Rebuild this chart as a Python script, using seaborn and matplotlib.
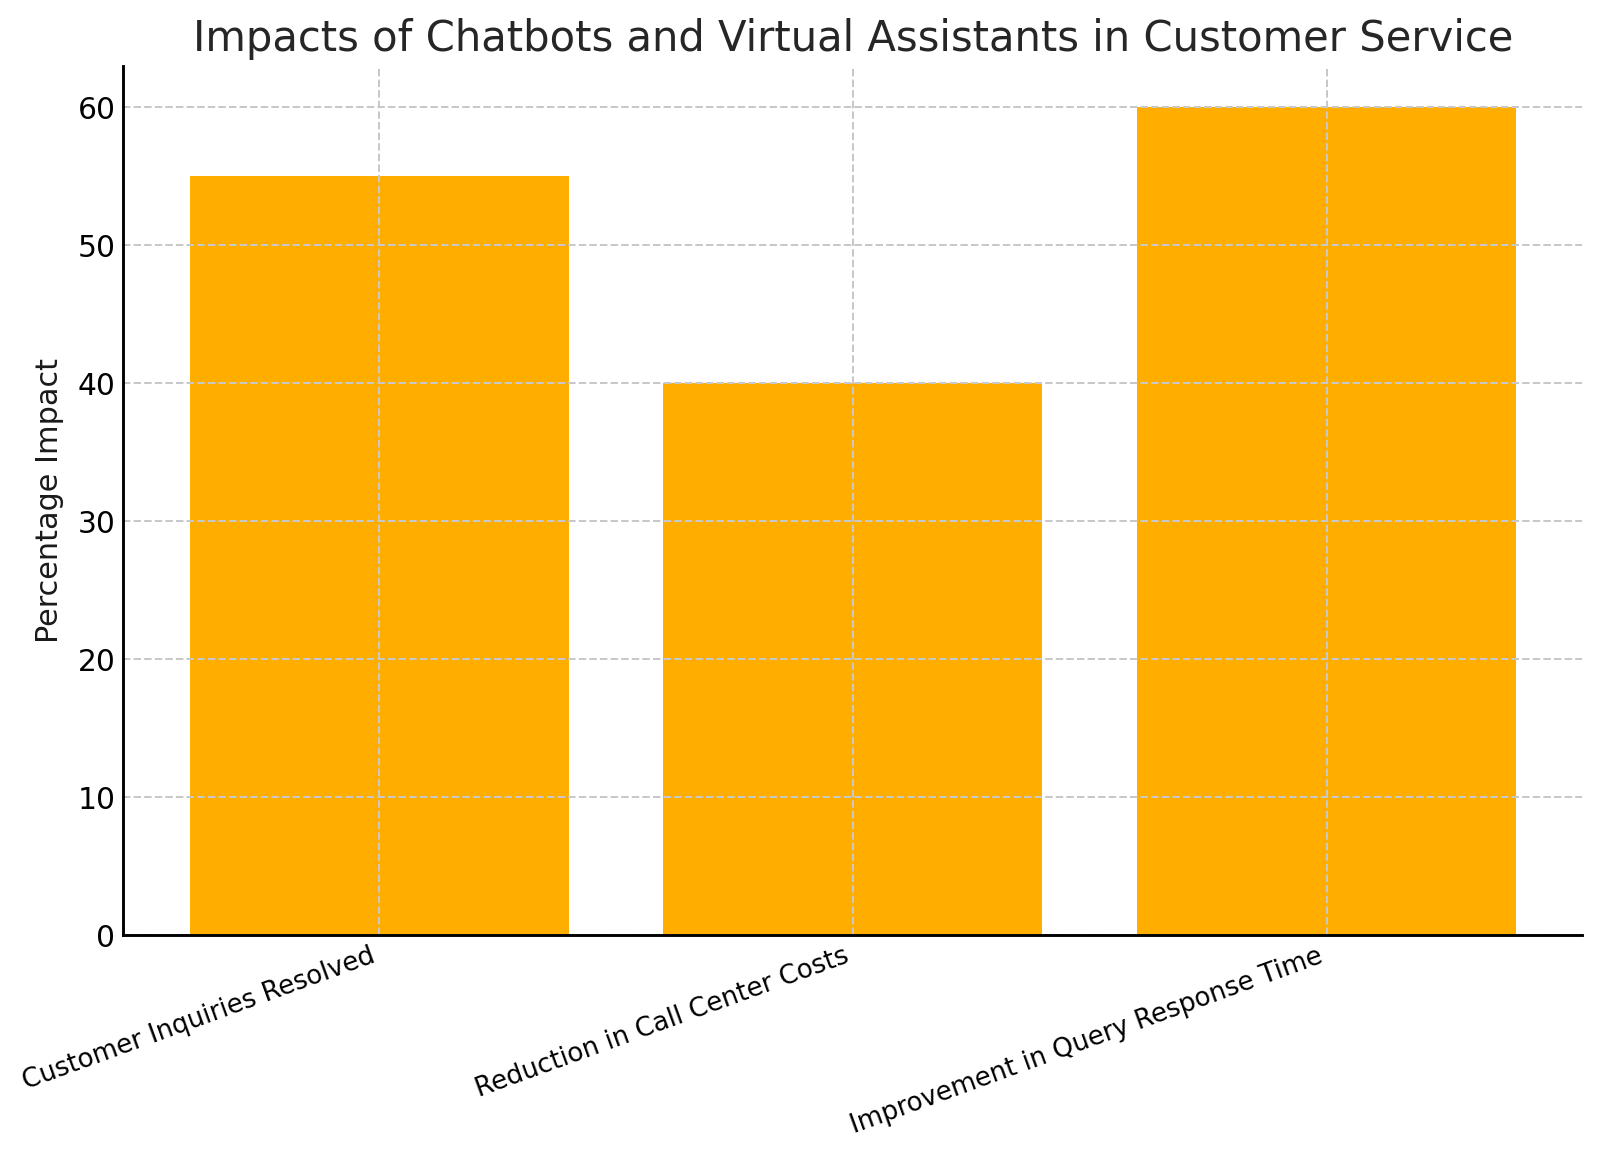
import matplotlib
matplotlib.use("Agg")
import matplotlib.pyplot as plt
import seaborn as sns
import pandas as pd

categories = ["Customer Inquiries Resolved", "Reduction in Call Center Costs",
              "Improvement in Query Response Time"]
values = [55, 40, 60]
title = "Impacts of Chatbots and Virtual Assistants in Customer Service"
ylabel = "Percentage Impact"

df = pd.DataFrame({"category": categories, "value": values})

sns.set_style("white")
plt.rcParams['font.family'] = ['DejaVu Sans']

fig, ax = plt.subplots(figsize=(10, 7.24375), dpi=160)
fig.subplots_adjust(left=0.077, right=0.989, top=0.943, bottom=0.193)

sns.barplot(data=df, x="category", y="value", color="#FFAE00", saturation=1,
            width=0.8, ax=ax, linewidth=0)

ax.set_xlim(-0.54, 2.54)
ax.set_ylim(0, 63)
ax.set_xlabel("")
ax.set_ylabel(ylabel, fontsize=13.6, color="#1a1a1a", labelpad=6)
ax.set_title(title, fontsize=18.8, color="#262626", pad=7)

ax.grid(True, linestyle="--", color="#c8c8c8", linewidth=0.9)
ax.set_axisbelow(False)

for s in ["top", "right"]:
    ax.spines[s].set_visible(False)
for s in ["left", "bottom"]:
    ax.spines[s].set_color("black")
    ax.spines[s].set_linewidth(1.3)
    ax.spines[s].set_zorder(5)

ax.tick_params(axis="both", direction="in", length=6, width=1, colors="black")
ax.tick_params(axis="y", labelsize=13.4)
ax.tick_params(axis="x", labelsize=11.7)
plt.setp(ax.get_xticklabels(), rotation=20, ha="right", rotation_mode="default")

fig.savefig("out.png", dpi=160)
